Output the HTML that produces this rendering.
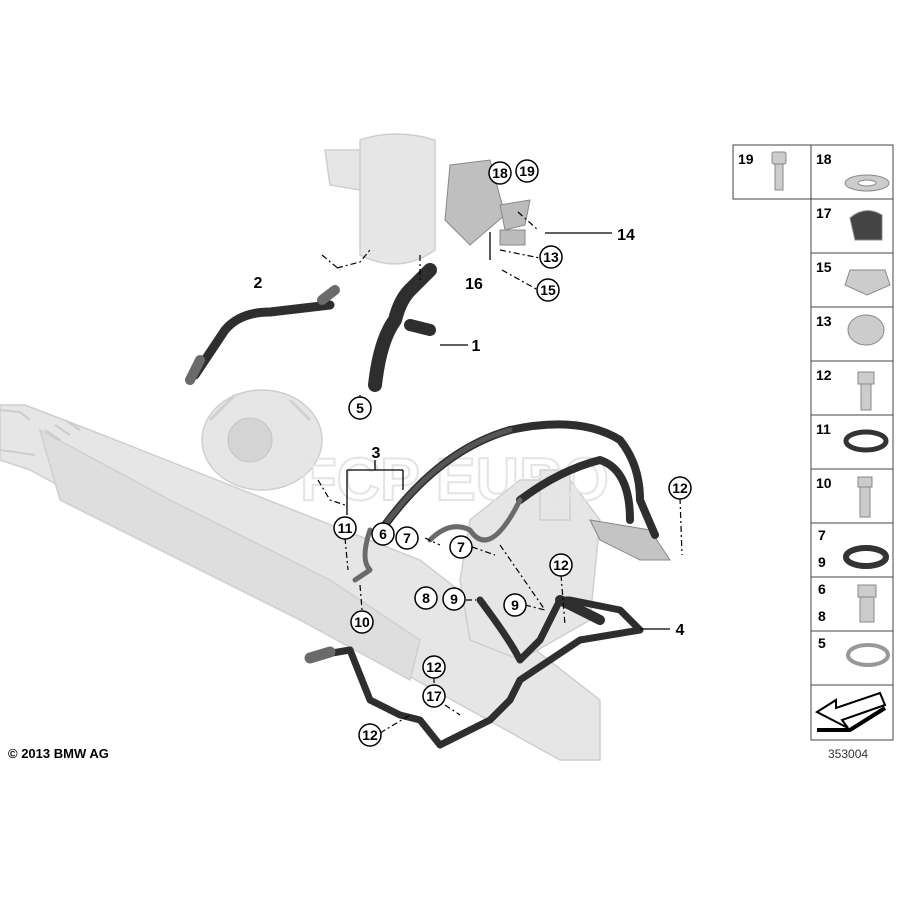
<!DOCTYPE html>
<html><head><style>
body{margin:0;background:#fff;}
svg{display:block;font-family:"Liberation Sans",Arial,sans-serif;}
.n{font-weight:bold;font-size:14px;}
.c{fill:#fff;stroke:#000;stroke-width:1.5;}
.g{fill:#e6e6e6;stroke:#cfcfcf;stroke-width:1.5;}
.h{fill:none;stroke:#2e2e2e;stroke-linecap:round;stroke-linejoin:round;}
.hl{fill:none;stroke:#6a6a6a;stroke-linecap:round;stroke-linejoin:round;}
.d{fill:none;stroke:#000;stroke-width:1.2;stroke-dasharray:6,3,2,3;}
.l{fill:none;stroke:#000;stroke-width:1.3;}
</style></head><body>
<svg width="900" height="900" viewBox="0 0 900 900">
<!-- rack -->
<path class="g" d="M0,405 L25,405 L90,430 L420,560 L600,700 L600,760 L560,760 L380,660 L30,470 L0,460 Z"/>
<path class="g" d="M40,430 L170,500 L330,580 L420,640 L410,680 L300,620 L60,500 Z" style="fill:#dedede"/>
<path d="M0,410 L20,412 L30,420 M0,450 L35,455" fill="none" stroke="#ccc" stroke-width="2"/>
<path d="M45,430 L60,440 M55,425 L70,435 M65,420 L80,430" stroke="#ccc" stroke-width="2"/>
<!-- alternator -->
<ellipse class="g" cx="262" cy="440" rx="60" ry="50"/>
<circle cx="250" cy="440" r="22" fill="#d4d4d4" stroke="#c4c4c4"/>
<path d="M210,420 L235,395 M290,400 L310,420" stroke="#d0d0d0" stroke-width="3"/>
<!-- pump -->
<path class="g" d="M470,520 L520,480 L570,480 L600,520 L590,620 L520,660 L470,640 L460,580 Z"/>
<path class="g" d="M540,470 L570,470 L570,520 L540,520 Z"/>
<!-- reservoir -->
<path class="g" d="M360,140 Q395,128 435,140 L435,250 Q400,275 360,255 Z"/>
<path class="g" d="M325,150 L360,150 L360,190 L330,185 Z"/>
<!-- bracket 16 -->
<path d="M450,165 L490,160 L505,215 L470,245 L445,220 Z" fill="#bfbfbf" stroke="#888"/>
<path d="M500,205 L530,200 L525,225 L505,230 Z" fill="#bbb" stroke="#888"/>
<path d="M500,230 L525,230 L525,245 L500,245 Z" fill="#bbb" stroke="#888"/>
<path d="M590,520 L650,530 L670,560 L640,560 L600,540 Z" fill="#c4c4c4" stroke="#888"/>
<!-- watermark -->
<text x="300" y="500" font-size="60" fill="none" stroke="#e4e4e4" stroke-width="2" font-weight="bold">FCP EURO</text>
<!-- hose 2 -->
<path class="h" d="M195,375 L225,330 Q240,312 270,312 L330,305" stroke-width="9"/>
<path class="hl" d="M190,380 L200,360" stroke-width="10"/>
<path class="hl" d="M322,300 L335,290" stroke-width="10"/>
<!-- hose 1 -->
<path class="h" d="M375,385 Q380,340 395,320 Q400,300 410,290 Q420,280 430,270" stroke-width="14"/>
<path class="h" d="M410,325 L430,330" stroke-width="12"/>
<!-- hoses 3 -->
<path class="h" d="M385,525 Q440,450 510,430 Q580,415 620,440 Q640,465 640,500 L655,535" stroke-width="8"/>
<path class="hl" d="M385,525 Q440,450 510,430" stroke-width="5" style="stroke:#555"/>
<path class="h" d="M520,500 Q560,470 600,460 Q630,470 630,520" stroke-width="8"/>
<path class="hl" d="M430,540 Q450,520 470,530 Q490,560 520,500" stroke-width="5"/>
<path class="hl" d="M370,530 Q360,560 370,570 L355,580" stroke-width="5"/>
<!-- hose 4 -->
<path class="h" d="M480,600 Q510,640 520,660 L540,640 L560,600 L570,600 L620,610 L640,630 L580,640 L550,660 L520,680 L510,700 L490,720 L440,745 L420,720 L400,715 L370,700 L350,650 L320,655" stroke-width="7"/>
<path class="h" d="M560,600 L600,620" stroke-width="10"/>
<path class="hl" d="M310,658 L330,652" stroke-width="11"/>
<!-- leader lines -->
<path class="d" d="M337,268 L360,262 L370,250 M322,255 L340,270 M420,255 L420,280"/>
<path class="l" d="M440,345 L468,345 M545,233 L612,233 M640,629 L670,629 M360,395 L360,418 M490,232 L490,260"/>
<path class="d" d="M500,250 L540,258 M502,270 L538,290 M518,212 L538,230"/>
<path class="l" d="M347,470 L403,470 M375,460 L375,470 M347,470 L347,515 M403,470 L403,490"/>
<path class="d" d="M318,480 L330,500 L345,505 M345,538 L348,570 M360,585 L362,610 M425,538 L440,545 M472,547 L495,555 M500,545 L545,610 M466,600 L476,600 M525,605 L545,610 M680,498 L682,555 M561,575 L565,625 M434,677 L434,685 M445,705 L460,715 M380,733 L410,715"/>
<!-- labels -->
<g class="n" text-anchor="middle">
<text x="258" y="288" font-size="16">2</text>
<text x="476" y="351" font-size="16">1</text>
<text x="474" y="289" font-size="16">16</text>
<text x="626" y="240" font-size="16">14</text>
<text x="376" y="458" font-size="16">3</text>
<text x="680" y="635" font-size="16">4</text>
</g>
<g class="n" text-anchor="middle">
<g><circle class="c" cx="500" cy="173" r="11"/><text x="500" y="178">18</text></g>
<g><circle class="c" cx="527" cy="171" r="11"/><text x="527" y="176">19</text></g>
<g><circle class="c" cx="551" cy="257" r="11"/><text x="551" y="262">13</text></g>
<g><circle class="c" cx="548" cy="290" r="11"/><text x="548" y="295">15</text></g>
<g><circle class="c" cx="360" cy="408" r="11"/><text x="360" y="413">5</text></g>
<g><circle class="c" cx="345" cy="528" r="11"/><text x="345" y="533">11</text></g>
<g><circle class="c" cx="383" cy="534" r="11"/><text x="383" y="539">6</text></g>
<g><circle class="c" cx="407" cy="538" r="11"/><text x="407" y="543">7</text></g>
<g><circle class="c" cx="461" cy="547" r="11"/><text x="461" y="552">7</text></g>
<g><circle class="c" cx="680" cy="488" r="11"/><text x="680" y="493">12</text></g>
<g><circle class="c" cx="561" cy="565" r="11"/><text x="561" y="570">12</text></g>
<g><circle class="c" cx="426" cy="598" r="11"/><text x="426" y="603">8</text></g>
<g><circle class="c" cx="454" cy="599" r="11"/><text x="454" y="604">9</text></g>
<g><circle class="c" cx="515" cy="605" r="11"/><text x="515" y="610">9</text></g>
<g><circle class="c" cx="362" cy="622" r="11"/><text x="362" y="627">10</text></g>
<g><circle class="c" cx="434" cy="667" r="11"/><text x="434" y="672">12</text></g>
<g><circle class="c" cx="434" cy="696" r="11"/><text x="434" y="701">17</text></g>
<g><circle class="c" cx="370" cy="735" r="11"/><text x="370" y="740">12</text></g>
</g>
<text x="8" y="758" font-size="13" font-weight="bold">© 2013 BMW AG</text>
<!-- right table -->
<g fill="none" stroke="#444" stroke-width="1">
<rect x="733" y="145" width="78" height="54"/>
<rect x="811" y="145" width="82" height="595"/>
<path d="M811,199 H893 M811,253 H893 M811,307 H893 M811,361 H893 M811,415 H893 M811,469 H893 M811,523 H893 M811,577 H893 M811,631 H893 M811,685 H893"/>
</g>
<g class="n" font-size="15">
<text x="738" y="164">19</text><text x="816" y="164">18</text>
<text x="816" y="218">17</text><text x="816" y="272">15</text>
<text x="816" y="326">13</text><text x="816" y="380">12</text>
<text x="816" y="434">11</text><text x="816" y="488">10</text>
<text x="818" y="540">7</text><text x="818" y="567">9</text>
<text x="818" y="594">6</text><text x="818" y="621">8</text>
<text x="818" y="648">5</text>
</g>
<g fill="#ccc" stroke="#888">
<rect x="772" y="152" width="14" height="12" rx="2"/><rect x="775" y="164" width="8" height="26"/>
<ellipse cx="867" cy="183" rx="22" ry="8"/><ellipse cx="867" cy="183" rx="9" ry="3" fill="#fff"/>
<path d="M850,218 Q865,205 882,215 L882,240 L855,240 Z" fill="#444"/>
<polygon points="850,270 885,270 890,285 867,295 845,285"/>
<ellipse cx="866" cy="330" rx="18" ry="15"/>
<rect x="858" y="372" width="16" height="12"/><rect x="861" y="384" width="10" height="26"/>
<ellipse cx="866" cy="441" rx="20" ry="9" fill="none" stroke="#333" stroke-width="5"/>
<rect x="858" y="477" width="14" height="10"/><rect x="860" y="487" width="10" height="30"/>
<ellipse cx="866" cy="557" rx="20" ry="9" fill="none" stroke="#333" stroke-width="6"/>
<rect x="858" y="585" width="18" height="12"/><rect x="860" y="597" width="14" height="25"/>
<ellipse cx="868" cy="655" rx="20" ry="10" fill="none" stroke="#999" stroke-width="4"/>
</g>
<path d="M817,712 L836,700 L836,708 L880,693 L885,705 L842,720 L848,728 Z" fill="#fff" stroke="#000" stroke-width="2"/>
<path d="M817,730 L850,730 L885,708" fill="none" stroke="#000" stroke-width="4"/>
<text x="828" y="758" font-size="12" fill="#333">353004</text>
</svg>
</body></html>
